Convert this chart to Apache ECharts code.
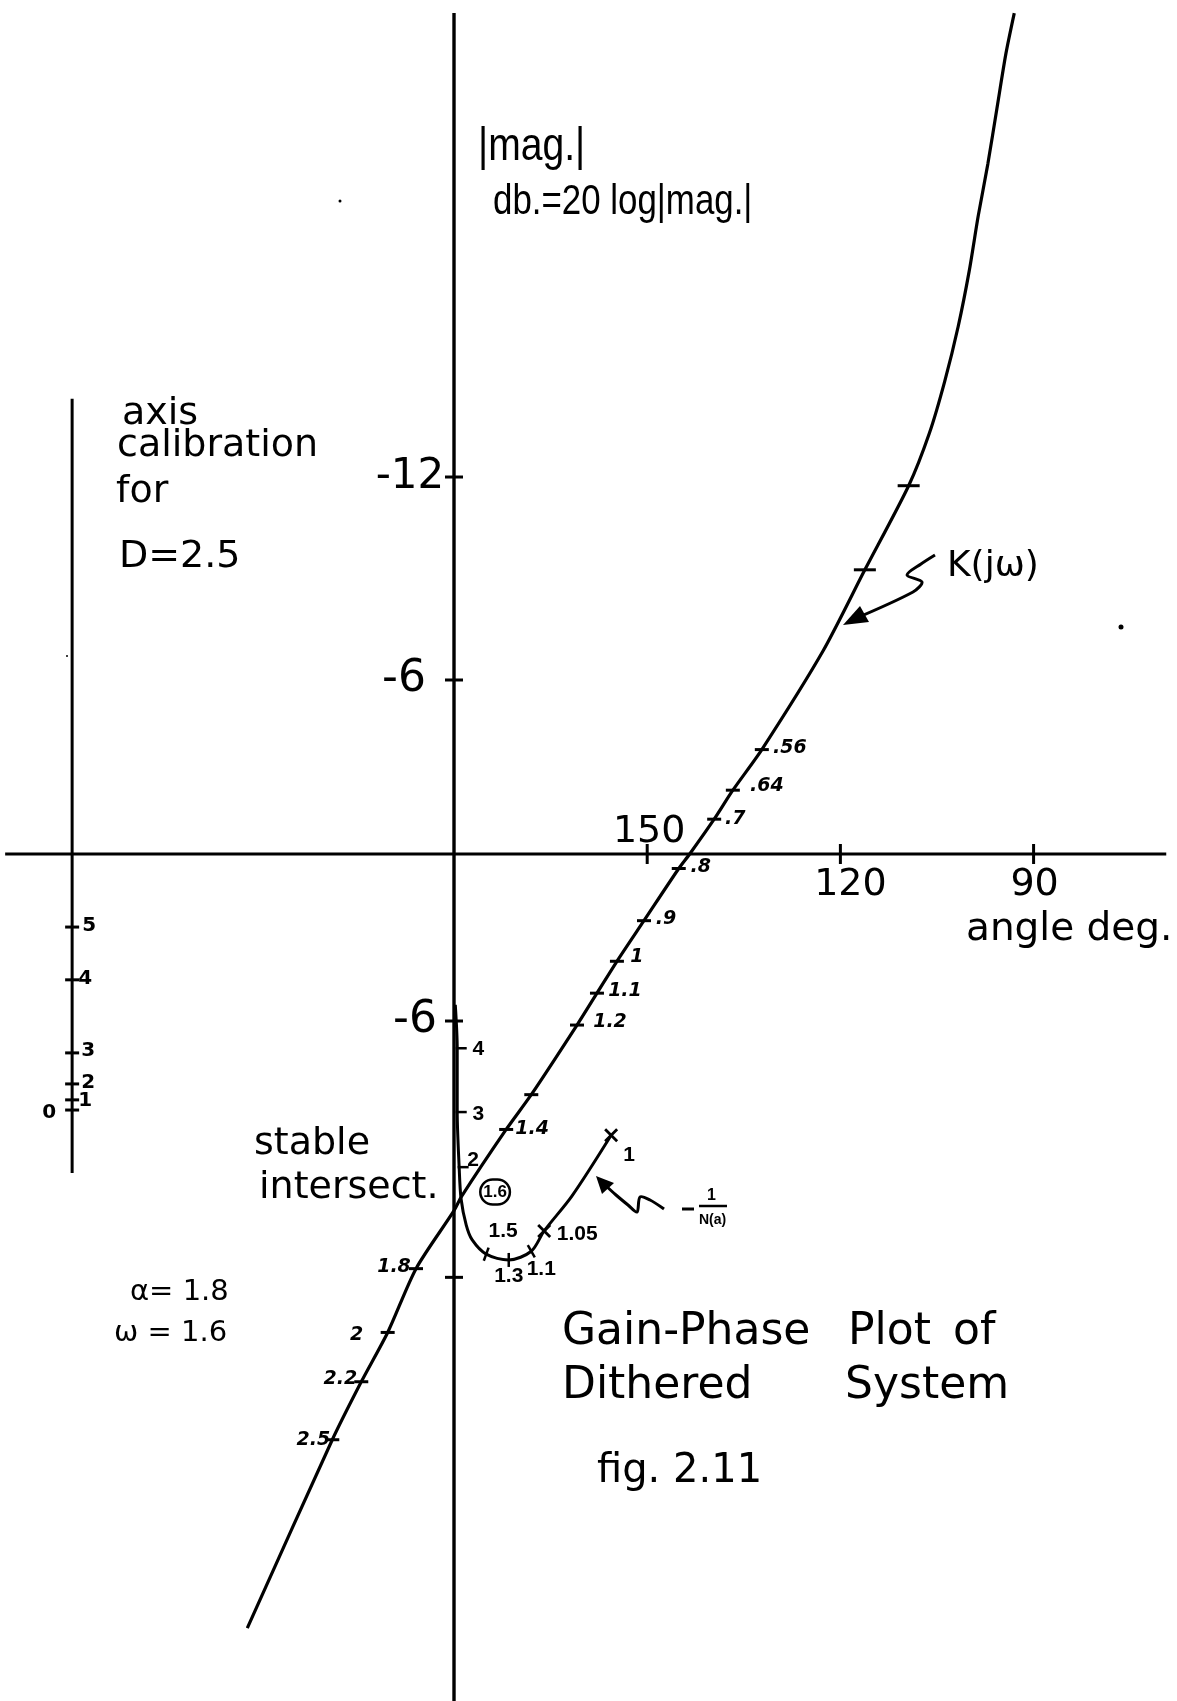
<!DOCTYPE html>
<html><head><meta charset="utf-8">
<script src="https://cdn.jsdelivr.net/npm/echarts/dist/echarts.min.js"></script>
<style>html,body{margin:0;padding:0;background:#fff}#c{width:1177px;height:1701px}</style>
</head><body><div id="c"></div>
<script>
// ---------- data (phase angle in degrees, gain in dB) ----------
// K(jw) locus
const kAngle = [212.1, 198.9, 194.4, 190.3, 185.9, 180.0, 178.8, 171.9, 168.0, 160.9, 157.8, 154.7, 150.5, 145.1, 143.4, 139.6, 136.7, 132.2, 122.7, 116.2, 109.4, 106.2, 103.8, 101.7, 100.0, 98.6, 97.1, 95.7, 94.3, 93.0];
const kDb    = [-26.7, -20.2, -18.2, -16.5, -14.3, -12.3, -11.8, -9.5, -8.3, -5.9, -4.8, -3.7, -2.3, -0.5, 0.0, 1.2, 2.2, 3.6, 7.0, 9.8, 12.7, 14.5, 16.3, 18.2, 20.1, 22.0, 23.8, 25.7, 27.6, 29.0];
// frequency marks on K(jw)
const kTickLabels = ['.56', '.64', '.7', '.8', '.9', '1', '1.1', '1.2', '', '1.4', '1.8', '2', '2.2', '2.5'];
const kTickAngle  = [132.2, 136.7, 139.6, 145.1, 150.5, 154.7, 157.8, 160.9, 168.0, 171.9, 185.9, 190.3, 194.4, 198.9];
const kTickDb     = [3.6, 2.2, 1.2, -0.5, -2.3, -3.7, -4.8, -5.9, -8.3, -9.5, -14.3, -16.5, -18.2, -20.2];
const kUpperTickAngle = [116.2, 109.4];
const kUpperTickDb    = [9.8, 12.7];
// -1/N(a) locus
const nAngle = [179.8, 179.5, 179.5, 179.2, 178.9, 178.1, 177.2, 175.0, 171.5, 168.0, 166.0, 161.7, 155.6];
const nDb    = [-5.2, -6.7, -8.9, -10.8, -11.9, -12.8, -13.3, -13.8, -14.0, -13.7, -13.0, -11.8, -9.7];
const nTickLabels = ['4', '3', '2', '1.6', '1.5', '1.3', '1.1', '1.05', '1'];
const nTickAngle  = [179.5, 179.5, 179.2, 178.9, 175.0, 171.5, 168.0, 166.0, 155.6];
const nTickDb     = [-6.7, -8.9, -10.8, -11.9, -13.8, -14.0, -13.7, -13.0, -9.7];
const nTickKind   = ['h', 'h', 'h', 'circle', 'p', 'p', 'p', 'x', 'x'];
// axis calibration for D = 2.5
const calibLabels = ['0', '1', '2', '3', '4', '5'];
const calibDb     = [-8.83, -8.48, -7.93, -6.86, -4.34, -2.52];
const calibAngle  = 239.3;
const calibAxisDb = [15.7, -11.0];
// main axes and their ticks
const hAxisAngle = [249.7, 69.4];
const vAxisDb    = [29.0, -29.3];
const xTickAngle  = [150, 120, 90];
const xTickLabels = ['150', '120', '90'];
const yTickDb     = [13.0, 6.0, -5.76, -14.6];
const yTickLabels = ['-12', '-6', '-6', ''];
// axis ranges (right/left edge angle, bottom/top dB)
const xRange = [67.73, 250.50];
const yRange = [-29.21, 29.45];

// ---------- layout (label offsets in px) ----------
const kLabelOff = [[28,-2],[34,-4],[21,0],[22,-1],[22,-2],[20,-4],[28,-2],[33,-3],[0,0],[26,0],[-22,-2],[-31,3],[-21,-3],[-19,0]];
const nLabelOff = [[17,1],[17,2],[10,-7],[34,-7],[17,-23],[0,16],[10,18],[33,3],[18,20]];
const nTickRot  = [0,0,0,0,-20,0,30,0,0];
const calibOff  = [[-23,3],[13,1],[16,-1],[16,-2],[13,-1],[17,-1]];
const yTickOff  = [[-44,0],[-50,0],[-39,0],[0,0]];
const xTickOff  = [[2,-22],[10,31],[1,31]];

const BLACK = '#000';
const DV = '"DejaVu Sans", sans-serif';
const LS = '"Liberation Sans", Arial, sans-serif';
const xPath = 'path://M0,2L2,0L7,5L12,0L14,2L9,7L14,12L12,14L7,9L2,14L0,12L5,7Z';

function pair(a, b) { return a.map((v, i) => [v, b[i]]); }

const kTickData = kTickAngle.map((a, i) => ({
  value: [a, kTickDb[i]], name: kTickLabels[i], label: { offset: kLabelOff[i] }
}));
const nTickData = nTickAngle.map((a, i) => {
  const k = nTickKind[i];
  const it = { value: [a, nTickDb[i]], name: nTickLabels[i], label: { offset: nLabelOff[i] } };
  if (k === 'h') { it.symbol = 'rect'; it.symbolSize = [11, 2.5]; it.symbolOffset = [4, 0]; }
  else if (k === 'p') { it.symbol = 'rect'; it.symbolSize = [2.5, 14]; it.symbolRotate = nTickRot[i]; }
  else if (k === 'x') { it.symbol = xPath; it.symbolSize = 14; }
  else {
    it.symbolSize = 0;
    Object.assign(it.label, { borderColor: BLACK, borderWidth: 2.5, borderRadius: 14, padding: [5, 3, 3, 3], fontSize: 17 });
  }
  return it;
});
const calibData = calibDb.map((d, i) => ({ value: [calibAngle, d], name: calibLabels[i], label: { offset: calibOff[i] } }));
const yTickData = yTickDb.map((d, i) => ({ value: [180, d], name: yTickLabels[i],
  label: { offset: yTickOff[i], fontSize: yTickLabels[i] === '-6' ? 44 : 42 } }));
const xTickData = xTickAngle.map((a, i) => ({ value: [a, 0], name: xTickLabels[i], label: { offset: xTickOff[i] } }));

const lineBase = { type: 'line', symbol: 'none', silent: true, animation: false };
const nameFmt = p => p.name;
const solid = { color: BLACK, opacity: 1 };

const chart = echarts.init(document.getElementById('c'), null, { renderer: 'canvas' });
chart.setOption({
  backgroundColor: '#fff',
  animation: false,
  grid: { left: 0, right: 0, top: 0, bottom: 0, containLabel: false },
  xAxis: { type: 'value', inverse: true, min: xRange[0], max: xRange[1], show: false },
  yAxis: { type: 'value', min: yRange[0], max: yRange[1], show: false },
  series: [
    Object.assign({}, lineBase, { data: pair(hAxisAngle, [0, 0]), lineStyle: { color: BLACK, width: 2.8 } }),
    Object.assign({}, lineBase, { data: pair([180, 180], vAxisDb), lineStyle: { color: BLACK, width: 3.4 } }),
    Object.assign({}, lineBase, { data: pair([calibAngle, calibAngle], calibAxisDb), lineStyle: { color: BLACK, width: 3 } }),
    Object.assign({}, lineBase, { data: pair(kAngle, kDb), smooth: 0.25, lineStyle: { color: BLACK, width: 3.2 } }),
    Object.assign({}, lineBase, { data: pair(nAngle, nDb), smooth: 0.3, lineStyle: { color: BLACK, width: 3 } }),
    { type: 'scatter', silent: true, animation: false, z: 5, data: kTickData,
      symbol: 'rect', symbolSize: [14, 3], itemStyle: solid,
      label: { show: true, position: 'inside', formatter: nameFmt, color: BLACK, textBorderWidth: 0,
               fontFamily: DV, fontSize: 19, fontWeight: 'bold', fontStyle: 'italic' } },
    { type: 'scatter', silent: true, animation: false, z: 5, data: pair(kUpperTickAngle, kUpperTickDb),
      symbol: 'rect', symbolSize: [22, 3], itemStyle: solid },
    { type: 'scatter', silent: true, animation: false, z: 5, data: nTickData,
      symbol: 'rect', itemStyle: solid,
      label: { show: true, position: 'inside', formatter: nameFmt, color: BLACK, textBorderWidth: 0,
               fontFamily: LS, fontSize: 21, fontWeight: 'bold' } },
    { type: 'scatter', silent: true, animation: false, z: 5, data: calibData,
      symbol: 'rect', symbolSize: [14, 3], itemStyle: solid,
      label: { show: true, position: 'inside', formatter: nameFmt, color: BLACK, textBorderWidth: 0,
               fontFamily: DV, fontSize: 20, fontWeight: 'bold' } },
    { type: 'scatter', silent: true, animation: false, z: 5, data: yTickData,
      symbol: 'rect', symbolSize: [18, 3], itemStyle: solid,
      label: { show: true, position: 'inside', formatter: nameFmt, color: BLACK, textBorderWidth: 0, fontFamily: DV } },
    { type: 'scatter', silent: true, animation: false, z: 5, data: xTickData,
      symbol: 'rect', symbolSize: [3, 20], itemStyle: solid,
      label: { show: true, position: 'inside', formatter: nameFmt, color: BLACK, textBorderWidth: 0,
               fontFamily: DV, fontSize: 38 } }
  ],
  graphic: (function () {
    const g = [];
    function txt(t, x, y, size, fam, extra, sx) {
      g.push({ type: 'text', x: x, y: y, scaleX: sx || 1, silent: true,
        style: Object.assign({ text: t, fill: BLACK, fontSize: size, fontFamily: fam,
          textAlign: 'left', align: 'left', textVerticalAlign: 'middle', verticalAlign: 'middle' }, extra || {}) });
    }
    txt('|mag.|', 478, 147, 46, LS, null, 0.85);
    txt('db.=20 log|mag.|', 493, 202, 42, LS, null, 0.83);
    txt('axis', 122, 414, 38, DV);
    txt('calibration', 117, 446, 38, DV);
    txt('for', 116, 492, 38, DV);
    txt('D=2.5', 119, 557, 38, DV);
    txt('K(jω)', 947, 567, 36, DV);
    txt('angle deg.', 966, 930, 39, DV);
    txt('stable', 254, 1144, 38, DV);
    txt('intersect.', 259, 1188, 38, DV);
    txt('α= 1.8', 130, 1292, 29, DV);
    txt('ω = 1.6', 114, 1333, 29, DV);
    txt('Gain-Phase', 562, 1333, 44, DV);
    txt('Plot', 848, 1333, 44, DV);
    txt('of', 953, 1333, 44, DV);
    txt('Dithered', 562, 1387, 44, DV);
    txt('System', 845, 1387, 44, DV);
    txt('fig. 2.11', 597, 1472, 40, DV);
    // -1/N(a) label
    g.push({ type: 'line', silent: true, shape: { x1: 682, y1: 1209, x2: 694, y2: 1209 }, style: { stroke: BLACK, lineWidth: 3 } });
    txt('1', 707, 1196, 16, LS, { fontWeight: 'bold' });
    g.push({ type: 'line', silent: true, shape: { x1: 699, y1: 1206, x2: 727, y2: 1206 }, style: { stroke: BLACK, lineWidth: 2.5 } });
    txt('N(a)', 699, 1220, 14, LS, { fontWeight: 'bold' });
    // arrows
    g.push({ type: 'polyline', silent: true, shape: { points: [[935,555],[921,564],[907,575],[922,582],[913,592],[852,620]], smooth: 0.3 },
      style: { stroke: BLACK, lineWidth: 3, fill: null } });
    g.push({ type: 'polygon', silent: true, shape: { points: [[843,625],[860,606],[869,622]] }, style: { fill: BLACK } });
    g.push({ type: 'polyline', silent: true, shape: { points: [[604,1184],[616,1195],[628,1205],[637,1212],[640,1197],[650,1200],[664,1209]], smooth: 0.3 },
      style: { stroke: BLACK, lineWidth: 3, fill: null } });
    g.push({ type: 'polygon', silent: true, shape: { points: [[596,1176],[602,1194],[614,1183]] }, style: { fill: BLACK } });
    // specks
    g.push({ type: 'circle', silent: true, shape: { cx: 1121, cy: 627, r: 2.5 }, style: { fill: BLACK } });
    g.push({ type: 'circle', silent: true, shape: { cx: 340, cy: 201, r: 1.5 }, style: { fill: BLACK } });
    g.push({ type: 'circle', silent: true, shape: { cx: 67, cy: 656, r: 1 }, style: { fill: BLACK } });
    return g;
  })()
});
</script>
</body></html>
